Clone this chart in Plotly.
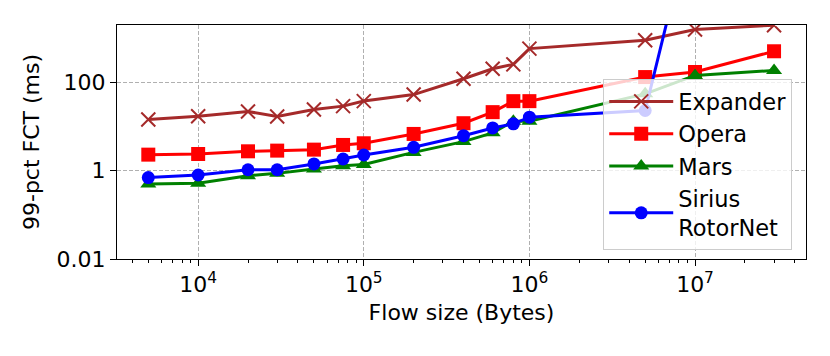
import plotly.graph_objects as go

# flow sizes (bytes)
flow_size = [5e3, 1e4, 2e4, 3e4, 5e4, 7.5e4, 1e5, 2e5, 4e5, 6e5, 8e5, 1e6, 5e6, 1e7, 3e7]

# 99-pct FCT (ms)
expander = [14.4, 17.1, 21.9, 16.9, 24.3, 29, 37.7, 53, 121, 204, 256, 582, 901, 1575, 1975]
opera = [2.31, 2.39, 2.75, 2.85, 3.0, 3.83, 4.18, 6.8, 11.9, 21.2, 37.6, 37.6, 132, 172, 507]
mars = [0.50, 0.52, 0.77, 0.87, 1.09, 1.30, 1.38, 2.6, 4.56, 7.2, 13.2, 13.2, 55, 144, 187]
sirius = [0.70, 0.80, 1.05, 1.05, 1.42, 1.84, 2.27, 3.39, 6.2, 9.3, 11.5, 16.3, 23.1, 9.3e5, 3e6]

x_ticks = [1e4, 1e5, 1e6, 1e7]
x_ticktext = ["10<sup>4</sup>", "10<sup>5</sup>", "10<sup>6</sup>", "10<sup>7</sup>"]
y_ticks = [0.01, 1, 100]
y_ticktext = ["0.01", "1", "100"]

series = [
    ("Expander", expander, "#a52a2a", "x-thin", 14),
    ("Opera", opera, "#ff0000", "square", 14),
    ("Mars", mars, "#008000", "triangle-up", 14),
    ("Sirius<br>RotorNet", sirius, "#0000ff", "circle", 13),
]

fig = go.Figure()
for name, vals, color, symbol, size in series:
    marker = dict(symbol=symbol, size=size, color=color)
    if symbol == "x-thin":
        marker["line"] = dict(color=color, width=2)
    fig.add_trace(go.Scatter(
        x=flow_size, y=vals, name=name, mode="lines+markers",
        line=dict(color=color, width=3), marker=marker,
    ))

# minor ticks like matplotlib's log locator
minor = [m * 10 ** e for e in range(3, 8) for m in range(2, 10)]
minor = [v for v in minor if 3.2e3 < v < 4.7e7 and v not in x_ticks]

font = dict(family="DejaVu Sans", size=22, color="black")
title_font = dict(family="DejaVu Sans", size=22, color="black")
legend_font = dict(family="DejaVu Sans", size=22.5, color="black")

# the page body has an 8px margin, so the figure is 8px smaller and shifted
fig.update_layout(
    width=822, height=348,
    margin=dict(l=109, r=24, t=17, b=97),
    paper_bgcolor="white", plot_bgcolor="white",
    font=font,
    showlegend=True,
    legend=dict(
        x=0.98, y=0.768, xanchor="right", yanchor="top",
        bgcolor="rgba(255,255,255,0.8)", bordercolor="#cccccc", borderwidth=1,
        font=legend_font, itemwidth=64, tracegroupgap=0,
    ),
)
fig.update_xaxes(
    type="log", range=[3.51, 7.67],
    tickvals=x_ticks, ticktext=x_ticktext,
    ticks="outside", ticklen=6, tickcolor="black",
    showline=True, linecolor="black", linewidth=1, mirror=True,
    showgrid=True, gridcolor="#b0b0b0", griddash="4px,2px", gridwidth=1,
    minor=dict(tickvals=minor, ticks="outside", ticklen=3, tickcolor="black", showgrid=False),
    title=dict(text="Flow size (Bytes)", standoff=8, font=title_font),
    zeroline=False, automargin=False,
)
fig.update_yaxes(
    type="log", range=[-2, 3.3],
    tickvals=y_ticks, ticktext=y_ticktext,
    ticks="outside", ticklen=6, tickcolor="black",
    showline=True, linecolor="black", linewidth=1, mirror=True,
    showgrid=True, gridcolor="#b0b0b0", griddash="4px,2px", gridwidth=1,
    title=dict(text="99-pct FCT (ms)", standoff=10, font=title_font),
    zeroline=False, automargin=False,
)

fig.write_html("out.html")
